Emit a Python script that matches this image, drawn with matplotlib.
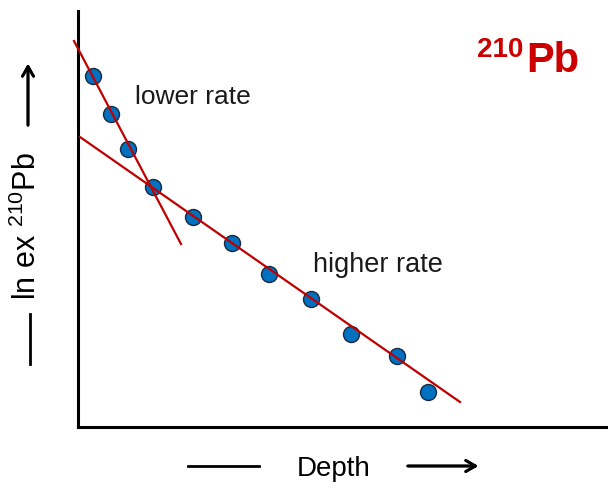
import numpy as np
import matplotlib.pyplot as plt

plt.rcParams['font.family'] = ['Liberation Sans', 'DejaVu Sans']
plt.rcParams['mathtext.fontset'] = 'custom'
plt.rcParams['mathtext.rm'] = 'Liberation Sans'

# data points (depth, ln ex 210Pb)
depth = [15, 33, 50, 75, 115, 154, 191, 233, 273, 319, 350]
lnpb = [351, 313, 278, 240, 210, 184, 153, 128, 93, 71, 35]

# fitted lines (end points)
steep_x = [-4, 103]
steep_y = [386, 183]
shallow_x = [2, 382]
shallow_y = [290, 25]

W, H = 608, 489
fig = plt.figure(figsize=(W / 100, H / 100), dpi=100)

def fx(x):
    return x / W

def fy(y):
    return 1 - y / H

ax = fig.add_axes([fx(78), fy(428), fx(530), 416 / H])
ax.set_xlim(0, 530)
ax.set_ylim(0, 416)

red = '#C00000'
ax.plot(steep_x, steep_y, color=red, lw=1.6, clip_on=False, zorder=3)
ax.plot(shallow_x, shallow_y, color=red, lw=1.6, clip_on=False, zorder=3)
ax.plot(depth, lnpb, 'o', ms=11.5, mfc='#0070C0', mec='#1a2a40', mew=1.0, zorder=2)

ax.text(57, 331, 'lower rate', fontsize=19, color='#1a1a1a', va='center')
ax.text(235, 163, 'higher rate', fontsize=19.5, color='#1a1a1a', va='center')

for s in ['top', 'right']:
    ax.spines[s].set_visible(False)
for s in ['left', 'bottom']:
    ax.spines[s].set_linewidth(2.2)
    ax.spines[s].set_color('black')
ax.set_xticks([])
ax.set_yticks([])

# axis labels with arrows
fig.text(fx(334), fy(469), 'Depth', fontsize=20, ha='center', va='center')
fig.text(fx(27), fy(226), r'ln ex $^{210}$Pb', fontsize=22, ha='center', va='center',
         rotation=90)

arrow_kw = dict(arrowstyle='->,head_length=0.7,head_width=0.4', color='black', lw=2)
fig.add_artist(plt.annotate('', xy=(fx(481), fy(467)), xytext=(fx(405), fy(467)),
                            xycoords='figure fraction', arrowprops=arrow_kw))
fig.add_artist(plt.Line2D([fx(188), fx(259)], [fy(467), fy(467)], color='black', lw=2))
fig.add_artist(plt.annotate('', xy=(fx(28), fy(62)), xytext=(fx(28), fy(129)),
                            xycoords='figure fraction', arrowprops=arrow_kw))
fig.add_artist(plt.Line2D([fx(30), fx(30)], [fy(315), fy(365)], color='black', lw=2))

# title
fig.text(fx(523), fy(57), '210', fontsize=20, fontweight='bold', color='#CC0000',
         ha='right', va='baseline')
fig.text(fx(526), fy(72), 'Pb', fontsize=30, fontweight='bold', color='#CC0000',
         ha='left', va='baseline')

fig.savefig('out.png', dpi=100)
